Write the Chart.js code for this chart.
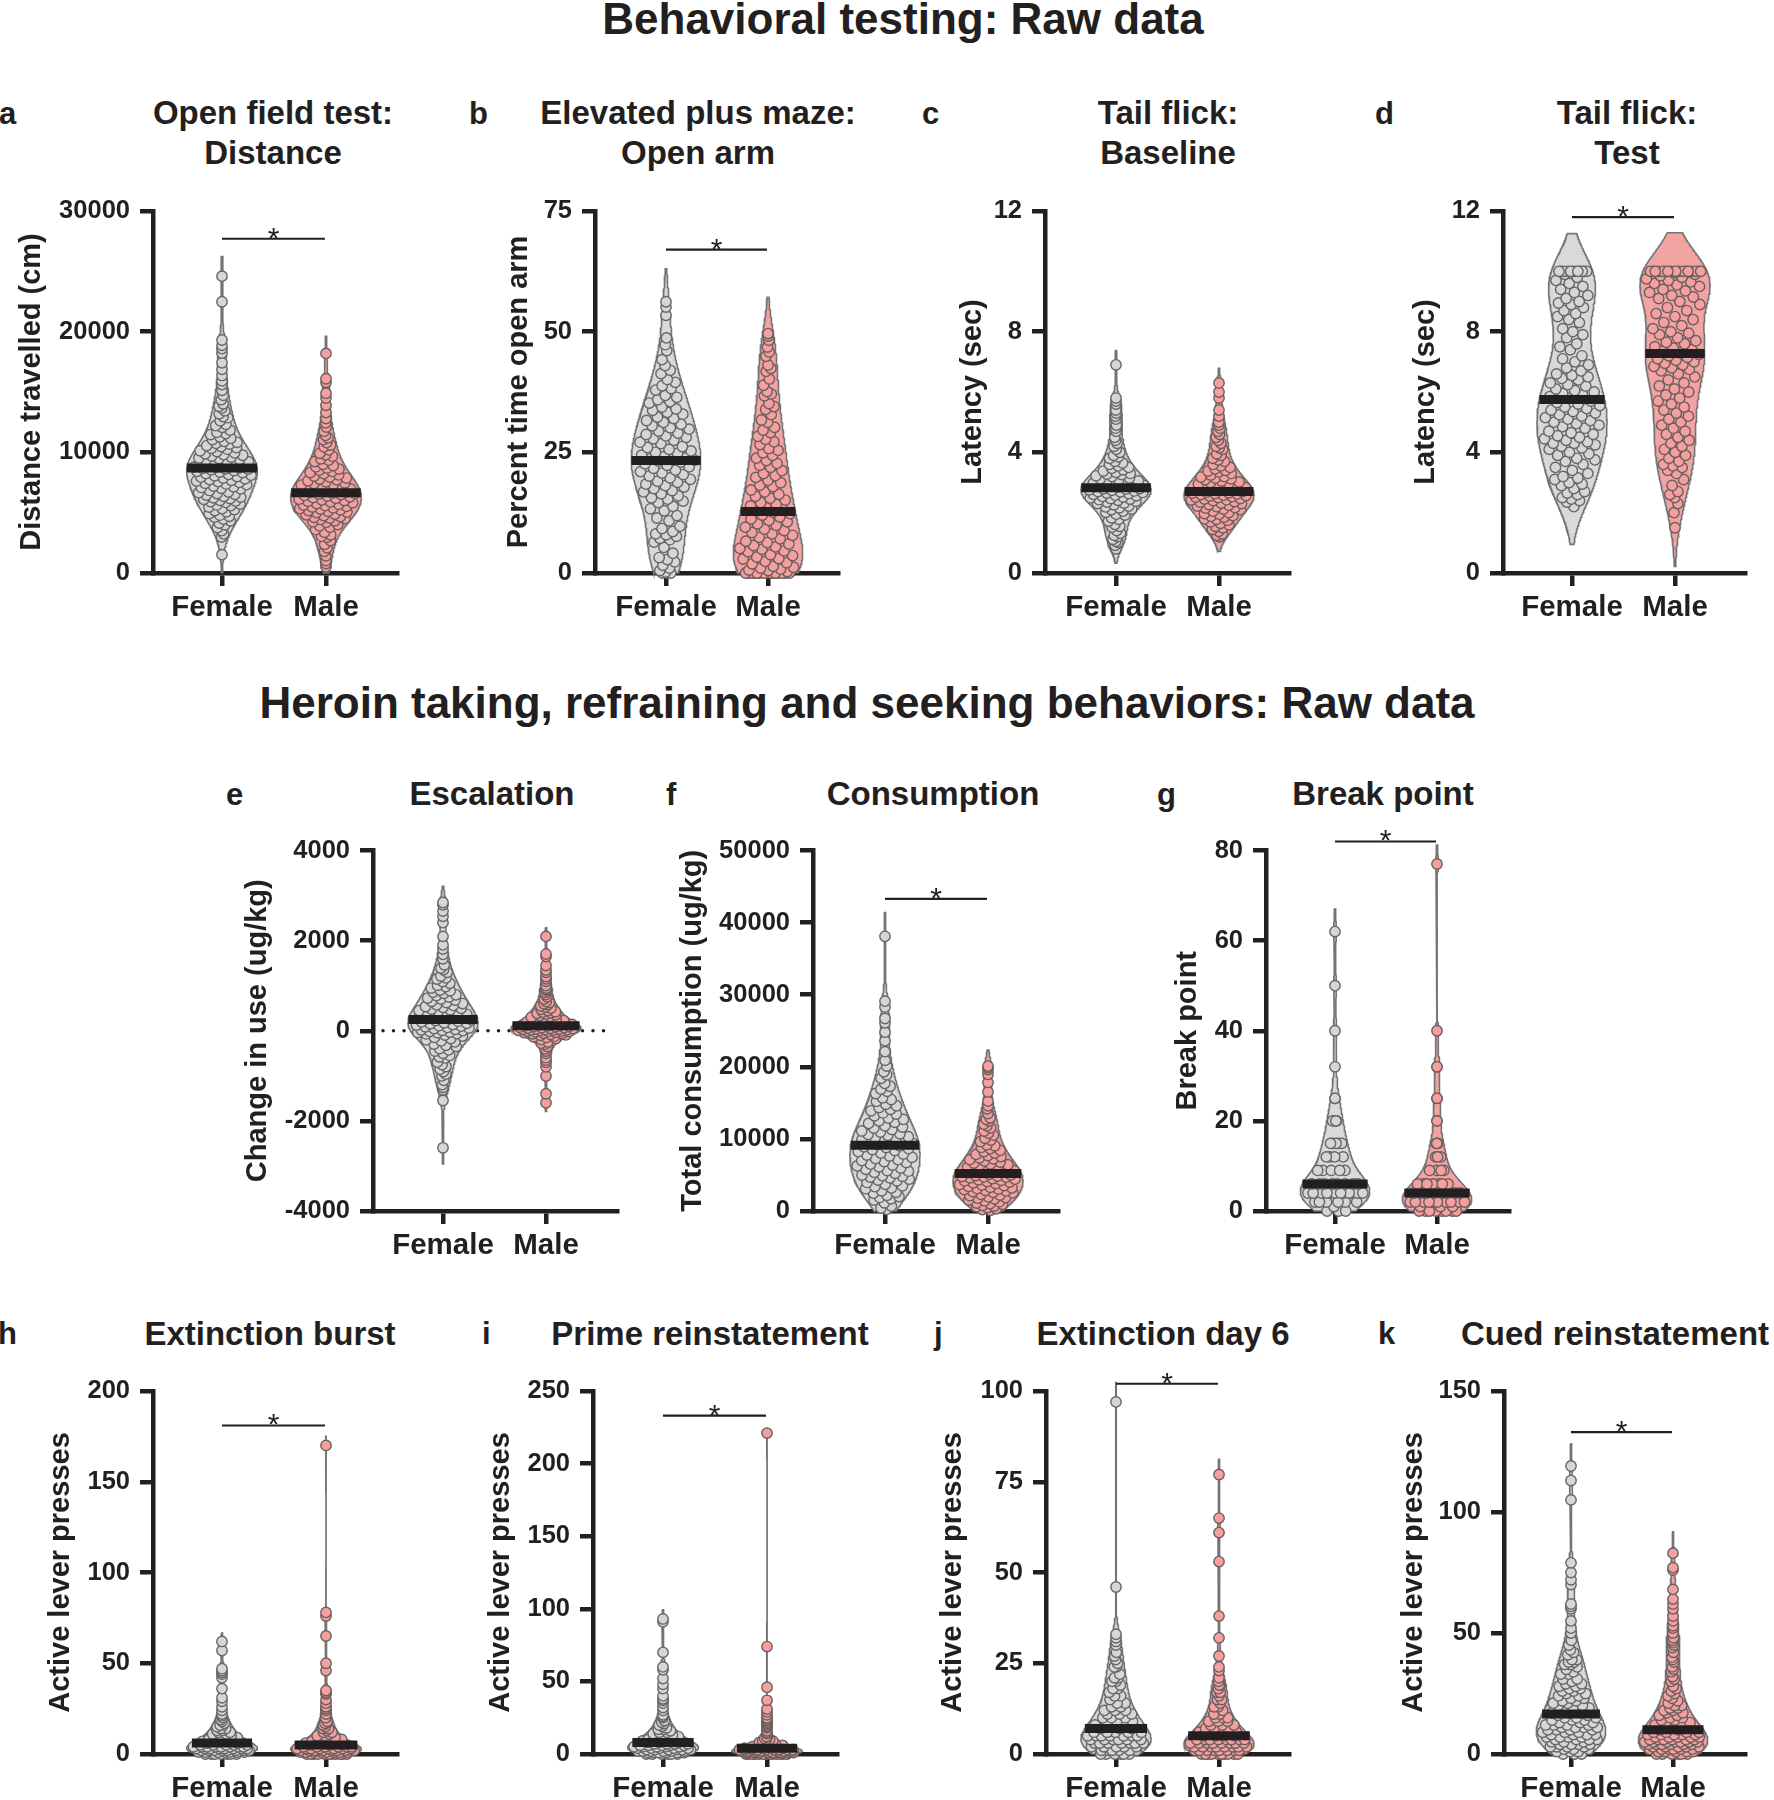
<!DOCTYPE html>
<html>
<head>
<meta charset="utf-8">
<script src="https://cdn.jsdelivr.net/npm/chart.js@4.4.0/dist/chart.umd.min.js"></script>
<style>
html,body{margin:0;padding:0;background:#fff;width:1774px;height:1800px;overflow:hidden;position:relative;font-family:"Liberation Sans",Arial,Helvetica,sans-serif;color:#231f20;}
.t{position:absolute;font-weight:bold;white-space:nowrap;}
.sec{font-size:44px;line-height:50px;transform:translateX(-50%);}
.pt{font-size:33px;line-height:40px;text-align:center;transform:translateX(-50%);}
.lt{font-size:31px;line-height:40px;}
canvas{position:absolute;}
</style>
</head>
<body>
<div class="t sec" style="left:903px;top:-6px">Behavioral testing: Raw data</div>
<div class="t sec" style="left:867px;top:678px">Heroin taking, refraining and seeking behaviors: Raw data</div>
<script>
// ---------------- DATA ----------------
const CATEGORIES = ['Female', 'Male'];

// a: Open field test - distance travelled (cm)
const DIST_FEMALE = [24600, 22480, 19310, 18870, 18590, 18230, 17420, 16880, 16370, 15920, 15610, 15140, 14730, 14360, 14020, 13660, 13440, 13190, 12870, 12620, 12330, 12070, 11840, 11660, 11470, 11290, 11060, 10910, 10740, 10560, 10390, 10260, 10070, 9950, 9810, 9690, 9540, 9410, 9280, 9160, 9030, 8940, 8860, 8770, 8720, 8680, 8560, 8430, 8320, 8170, 8060, 7940, 7810, 7740, 7680, 7570, 7440, 7320, 7210, 7090, 6970, 6840, 6720, 6590, 6460, 6360, 6230, 6110, 6020, 5970, 5850, 5720, 5580, 5460, 5330, 5180, 5070, 4920, 4790, 4630, 4470, 4320, 4140, 3990, 3770, 3510, 3240, 2980, 1520, 8610,
  8750, 8810, 8900, 9070, 9220, 9350, 9480, 9610, 9760, 9880, 10130, 10330, 10480, 10690, 10830, 11170, 11560, 12210, 12960, 13820, 8640, 8490, 8370, 8240, 8110, 7990, 7870, 7620, 7510, 7380, 7150, 7020, 6660, 6520, 6290, 6170, 5910, 5640, 5260, 4700];
const DIST_MALE = [18200, 16100, 15800, 14900, 14500, 13900, 13300, 12800, 12450, 12100, 11750, 11400, 11050, 10800, 10450, 10200, 9920, 9680, 9470, 9230, 9010, 8790, 8610, 8420, 8230, 8040, 7870, 7720, 7560, 7410, 7290, 7150, 7010, 6900, 6790, 6700, 6600, 6490, 6380, 6250, 6120, 6010, 5890, 5760, 5630, 5520, 5410, 5300, 5240, 5110, 5010, 4890, 4760, 4620, 4510, 4440, 4330, 4190, 4020, 3810, 3590, 3380, 3170, 2960, 2690, 2380, 2090, 1790, 1420, 1030, 780, 520,
  6680, 6740, 6830, 6960, 7080, 7220, 7350, 7480, 7640, 7790, 7950, 8130, 8320, 8520, 8700, 8900, 9350, 9800, 10600, 11200, 6620, 6550, 6430, 6310, 6190, 6060, 5950, 5820, 5700, 5580, 5460, 5350, 5170, 5050, 4820, 4680, 4560, 4250, 3900, 3050];
const DIST_TICKS = [0, 10000, 20000, 30000];

// b: Elevated plus maze - percent time open arm
const OPENARM_FEMALE = [56.2, 55.1, 53.4, 48.7, 47.3, 46.1, 44.2, 43.0, 41.3, 40.1, 38.8, 37.9, 36.8, 35.9, 35.2, 34.4, 33.7, 32.9, 32.3, 31.6, 30.8, 30.1, 29.4, 28.7, 28.1, 27.5, 26.8, 26.2, 25.6, 25.0, 24.4, 23.9, 23.5, 23.4, 23.2, 22.6, 22.0, 21.3, 20.7, 20.1, 19.4, 18.8, 18.1, 17.5, 16.8, 16.0, 15.3, 14.6, 13.8, 12.9, 11.9, 10.8, 9.7, 8.6, 8.1, 7.6, 7.2, 6.4, 5.3, 4.1, 3.2, 2.3, 1.6, 1.0, 0.5, 0.2, 0, 0,
  23.6, 24.1, 24.8, 25.3, 26.0, 27.1, 27.8, 28.4, 29.0, 29.8, 30.5, 31.2, 32.0, 33.3, 34.0, 35.5, 36.4, 38.2, 39.5, 42.0, 23.0, 22.3, 21.7, 21.0, 20.4, 19.7, 19.0, 18.4, 17.8, 17.1, 16.4, 15.6, 14.9, 13.3, 11.4, 9.2, 7.9, 6.9, 2.8, 0];
const OPENARM_MALE = [49.6, 49.1, 48.2, 46.8, 44.9, 43.1, 42.4, 41.8, 40.2, 38.9, 37.6, 36.7, 35.1, 33.9, 32.8, 31.7, 30.2, 29.1, 28.3, 27.2, 26.6, 25.8, 24.9, 23.8, 22.7, 21.9, 20.6, 19.8, 18.7, 17.9, 16.8, 15.9, 15.1, 14.2, 13.5, 12.9, 12.6, 12.0, 11.2, 10.6, 9.9, 9.1, 8.4, 7.8, 7.1, 6.6, 6.0, 5.4, 4.9, 4.4, 3.8, 3.3, 2.9, 2.4, 1.9, 1.4, 1.0, 0.8, 0.5, 0.3, 0, 0, 0, 0, 0, 0, 0, 0, 0, 0, 0, 0,
  13.2, 13.9, 14.6, 15.5, 16.3, 17.2, 18.2, 19.2, 20.2, 21.2, 22.3, 23.3, 24.4, 25.4, 27.7, 29.6, 31.2, 34.5, 37.1, 45.8, 12.3, 11.6, 10.9, 10.2, 9.5, 8.8, 8.1, 7.4, 6.3, 5.7, 5.1, 4.6, 3.6, 3.0, 2.1, 1.2, 0.6, 0, 0, 0];
const OPENARM_TICKS = [0, 25, 50, 75];

// c: Tail flick baseline latency (sec)
const TFBASE_FEMALE = [6.9, 5.8, 5.7, 5.4, 5.3, 5.1, 4.9, 4.7, 4.5, 4.3, 4.2, 4.0, 3.9, 3.8, 3.7, 3.6, 3.5, 3.47, 3.38, 3.3, 3.26, 3.2, 3.12, 3.05, 3.01, 2.98, 2.95, 2.91, 2.88, 2.85, 2.8, 2.76, 2.72, 2.69, 2.65, 2.61, 2.56, 2.52, 2.49, 2.45, 2.41, 2.35, 2.3, 2.22, 2.16, 2.1, 2.01, 1.92, 1.83, 1.72, 1.61, 1.52, 1.41, 1.32, 1.21, 1.12, 1.02, 0.92, 0.8, 2.79,
  2.87, 2.89, 2.9, 2.93, 2.97, 3.03, 3.08, 3.15, 3.22, 3.28, 3.34, 3.42, 3.55, 3.65, 3.85, 4.1, 4.4, 4.8, 5.2, 5.6, 2.78, 2.74, 2.7, 2.67, 2.63, 2.58, 2.54, 2.47, 2.43, 2.38, 2.32, 2.26, 2.19, 2.12, 2.05, 1.95, 1.78, 1.55, 1.25, 1.05];
const TFBASE_MALE = [6.3, 6.0, 5.8, 5.4, 5.2, 4.9, 4.8, 4.6, 4.5, 4.3, 4.2, 4.1, 3.9, 3.8, 3.7, 3.6, 3.5, 3.4, 3.35, 3.3, 3.2, 3.15, 3.1, 3.0, 2.95, 2.9, 2.85, 2.8, 2.75, 2.7, 2.68, 2.65, 2.62, 2.6, 2.55, 2.52, 2.5, 2.45, 2.42, 2.4, 2.35, 2.3, 2.25, 2.2, 2.15, 2.1, 2.0, 1.95, 1.9, 1.85, 1.8, 1.75, 1.7, 1.6, 1.5, 1.45, 1.3, 1.2, 2.58,
  2.78, 2.83, 2.88, 2.92, 2.97, 3.05, 3.12, 3.18, 3.25, 3.38, 3.45, 3.55, 3.75, 3.95, 4.15, 4.4, 4.7, 5.0, 3.02, 2.76, 2.66, 2.63, 2.57, 2.53, 2.47, 2.43, 2.37, 2.32, 2.27, 2.22, 2.17, 2.12, 2.05, 1.97, 1.88, 1.78, 1.65, 1.55, 1.38, 1.25];
const TF_TICKS = [0, 4, 8, 12];

// d: Tail flick test latency (sec)
const TFTEST_FEMALE = [10, 10, 10, 10, 10, 10, 10, 10, 9.8, 9.7, 9.6, 9.4, 9.3, 9.2, 9.0, 8.9, 8.8, 8.7, 8.6, 8.5, 8.3, 8.1, 8.0, 7.8, 7.6, 7.4, 7.2, 7.0, 6.8, 6.6, 6.5, 6.4, 6.3, 6.2, 6.1, 6.0, 5.9, 5.8, 5.7, 5.6, 5.5, 5.4, 5.35, 5.3, 5.2, 5.1, 5.05, 5.0, 4.9, 4.8, 4.7, 4.6, 4.5, 4.4, 4.35, 4.3, 4.3, 4.2, 4.1, 4.0, 3.9, 3.8, 3.7, 3.6, 3.5, 3.3, 3.2, 3.1, 3.0, 2.9, 2.8, 2.7, 2.6, 2.5, 2.4, 2.2,
  10, 10, 10, 10, 9.9, 9.5, 9.1, 8.95, 8.4, 7.9, 7.5, 7.1, 6.9, 6.7, 6.55, 6.45, 6.25, 6.05, 5.95, 5.85, 5.65, 5.55, 5.45, 5.25, 5.15, 4.95, 4.85, 4.65, 4.55, 4.45, 4.25, 4.15, 3.95, 3.75, 3.4, 3.15, 2.95, 2.65, 2.45, 2.35];
const TFTEST_MALE = [10, 10, 10, 10, 10, 10, 10, 10, 10, 10, 10, 10, 9.9, 9.8, 9.7, 9.6, 9.5, 9.4, 9.3, 9.2, 9.1, 9.0, 8.9, 8.8, 8.6, 8.4, 8.2, 8.0, 7.9, 7.8, 7.7, 7.6, 7.5, 7.4, 7.3, 7.25, 7.2, 7.1, 7.0, 6.9, 6.8, 6.7, 6.6, 6.4, 6.3, 6.2, 6.0, 5.9, 5.8, 5.6, 5.4, 5.2, 5.0, 4.9, 4.8, 4.6, 4.4, 4.2, 4.0, 3.8, 3.6, 3.5, 3.4, 3.1, 2.9, 2.7, 2.5, 2.3, 2.0, 1.5,
  10, 10, 10, 10, 10, 9.95, 9.85, 9.75, 9.65, 9.55, 9.35, 9.15, 8.7, 8.5, 8.3, 8.1, 7.95, 7.65, 7.45, 7.35, 7.15, 7.05, 6.95, 6.85, 6.75, 6.5, 6.1, 5.7, 5.5, 5.3, 5.1, 4.7, 4.5, 4.3, 4.1, 3.9, 3.7, 3.55, 3.3, 2.6];

// e: Escalation - change in use (ug/kg)
const ESC_FEMALE = [2846, 2792, 2655, 2541, 2398, 2093, 1905, 1812, 1694, 1597, 1462, 1391, 1296, 1214, 1148, 1093, 1007, 948, 903, 856, 797, 748, 703, 652, 604, 563, 518, 482, 447, 418, 386, 352, 318, 287, 262, 241, 212, 178, 153, 124, 102, 87, 61, 33, 18, 2, -28, -47, -64, -97, -148, -203, -247, -296, -352, -398, -451, -502, -548, -603, -697, -796, -852, -904, -1003, -1098, -1196, -1312, -1547, -2597,
  270, 298, 334, 365, 402, 433, 465, 497, 538, 578, 625, 681, 726, 778, 832, 888, 978, 1052, 1172, 1352, 228, 196, 164, 138, 112, 74, 46, 11, -14, -38, -71, -118, -172, -226, -322, -425, -578, -752, -963, -1254];
const ESC_MALE = [2093, 1702, 1648, 1447, 1296, 1204, 1098, 1003, 948, 897, 852, 803, 702, 648, 597, 553, 502, 448, 421, 398, 372, 338, 301, 268, 243, 212, 188, 167, 148, 131, 116, 104, 92, 79, 68, 61, 49, 38, 28, 19, 8, -3, -12, -24, -41, -58, -79, -102, -121, -148, -197, -252, -298, -351, -403, -502, -598, -703, -802, -1004, -1398, -1597,
  122, 139, 158, 177, 198, 226, 254, 286, 318, 355, 386, 412, 476, 528, 578, 623, 752, 918, 1152, 1348, 98, 86, 73, 55, 43, 33, 24, 13, 3, -7, -18, -33, -51, -68, -92, -134, -173, -275, -452, -652];
const ESC_TICKS = [-4000, -2000, 0, 2000, 4000];
const ESC_REFERENCE = 0;

// f: Total consumption (ug/kg)
const CONS_FEMALE = [38100, 29100, 28300, 26700, 26100, 24800, 23600, 22100, 20900, 20100, 19300, 18400, 17700, 16900, 16300, 15700, 15200, 14800, 14600, 14100, 13900, 13600, 13200, 12700, 12500, 12300, 11800, 11500, 11300, 11100, 10700, 10500, 10300, 9980, 9800, 9720, 9440, 9210, 9040, 8790, 8520, 8230, 7910, 7620, 7280, 6990, 6710, 6500, 6380, 6120, 5790, 5600, 5520, 5230, 4990, 4810, 4700, 4590, 4420, 4180, 3960, 3710, 3500, 3380, 3090, 2810, 2600, 2470, 2190, 1880, 1700, 1520, 1130, 690, 410, 220,
  9350, 9560, 9880, 10150, 10620, 10950, 11650, 12150, 12900, 13450, 14350, 15450, 16600, 17300, 18900, 8900, 8650, 8380, 8050, 7760, 7450, 7120, 6850, 6250, 5950, 5380, 4900, 4300, 3200, 2000];
const CONS_MALE = [20100, 19620, 18940, 17830, 16510, 15230, 14170, 13520, 12930, 12480, 12040, 11530, 11080, 10520, 10090, 9630, 9180, 8820, 8410, 8030, 7690, 7380, 7120, 6790, 6520, 6310, 6080, 5910, 5690, 5480, 5310, 5090, 4920, 4780, 4690, 4510, 4320, 4180, 4090, 3910, 3680, 3520, 3290, 3120, 2980, 2870, 2690, 2510, 2320, 2130, 1980, 1870, 1690, 1520, 1290, 1110, 920, 780, 690, 480, 310, 90,
  5390, 5580, 5790, 6010, 6210, 6420, 6650, 6950, 7250, 7550, 7850, 8250, 8650, 9050, 9850, 10800, 11800, 12700, 14600, 19900, 5020, 4850, 4730, 4600, 4420, 4250, 4020, 3810, 3610, 3410, 3200, 3050, 2790, 2590, 2210, 1780, 1400, 1020, 600, 210];
const CONS_TICKS = [0, 10000, 20000, 30000, 40000, 50000];

// g: Break point
const BP_FEMALE = [62, 50, 40, 32, 25, 25, 20, 20, 20, 20, 15, 15, 15, 15, 15, 12, 12, 12, 12, 9, 9, 9, 9, 9, 6, 6, 6, 6, 6, 6, 6, 6, 4, 4, 4, 4, 4, 4, 4, 4, 4, 4, 4, 4, 2, 2, 2, 2, 2, 2, 1, 0, 0, 0];
const BP_MALE = [77, 40, 32, 32, 25, 25, 20, 20, 15, 15, 15, 12, 12, 12, 9, 9, 9, 9, 6, 6, 6, 6, 6, 6, 6, 4, 4, 4, 4, 4, 4, 4, 4, 2, 2, 2, 2, 2, 2, 2, 2, 2, 2, 1, 1, 1, 0, 0, 0, 0, 0, 0, 0, 0];
const BP_TICKS = [0, 20, 40, 60, 80];

// h: Extinction burst - active lever presses
const EXTB_FEMALE = [62, 57, 47, 46, 45, 44, 42, 36, 31, 29, 26, 24, 22, 21, 20, 19, 17, 16, 15, 14, 13, 12, 11, 10, 10, 9, 9, 8, 8, 8, 7, 7, 7, 6, 6, 5, 5, 5, 5, 4, 4, 4, 4, 4, 3, 3, 3, 3, 3, 2, 2, 2, 2, 2, 1, 1, 1, 1, 1, 0, 0, 0, 0, 0, 0, 2, 3, 4,
  7, 8, 9, 10, 11, 12, 13, 14, 16, 18, 5, 4, 3, 2, 1, 0, 4, 3, 2, 1];
const EXTB_MALE = [170, 78, 76, 65, 50, 46, 35, 34, 33, 30, 28, 26, 24, 22, 20, 18, 17, 16, 15, 14, 13, 12, 11, 10, 9, 9, 8, 8, 7, 7, 6, 6, 6, 5, 5, 5, 4, 4, 4, 4, 3, 3, 3, 3, 3, 2, 2, 2, 2, 2, 2, 1, 1, 1, 1, 1, 1, 0, 0, 0, 0, 0, 0, 0, 0, 4, 3, 2,
  6, 7, 8, 9, 10, 12, 14, 17, 20, 25, 4, 3, 2, 1, 0, 0, 3, 2, 1, 0];
const EXTB_TICKS = [0, 50, 100, 150, 200];

// i: Prime reinstatement - active lever presses
const PRIME_FEMALE = [93, 91, 70, 60, 58, 52, 48, 45, 40, 38, 37, 35, 32, 30, 27, 25, 23, 21, 20, 18, 17, 16, 15, 14, 13, 12, 12, 11, 10, 10, 9, 9, 8, 8, 8, 7, 7, 7, 6, 6, 6, 5, 5, 5, 4, 4, 4, 4, 3, 3, 3, 3, 2, 2, 2, 2, 2, 1, 1, 1, 1, 1, 0, 0, 0, 0, 0, 6,
  9, 10, 11, 12, 13, 15, 17, 19, 22, 26, 7, 6, 5, 4, 3, 2, 1, 0, 5, 3];
const PRIME_MALE = [221, 74, 46, 37, 31, 29, 27, 25, 23, 22, 21, 20, 18, 16, 14, 12, 11, 10, 9, 9, 8, 8, 7, 7, 6, 6, 6, 5, 5, 5, 5, 4, 4, 4, 4, 4, 3, 3, 3, 3, 3, 3, 2, 2, 2, 2, 2, 2, 2, 1, 1, 1, 1, 1, 1, 1, 0, 0, 0, 0, 0, 0, 0, 0, 0, 0, 3, 2,
  5, 6, 7, 8, 9, 10, 12, 15, 19, 24, 3, 2, 1, 0, 0, 3, 2, 1, 0, 2];
const PRIME_TICKS = [0, 50, 100, 150, 200, 250];

// j: Extinction day 6 - active lever presses
const EXT6_FEMALE = [97, 46, 33, 32, 31, 30, 28, 27, 26, 25, 24, 22, 21, 20, 20, 19, 18, 17, 16, 15, 14, 13, 13, 12, 12, 11, 11, 10, 10, 9, 9, 8, 8, 7, 7, 7, 6, 6, 6, 6, 5, 5, 5, 5, 4, 4, 4, 4, 3, 3, 3, 3, 2, 2, 2, 2, 1, 1, 1, 1, 0, 0, 0, 0, 0, 5, 4, 3,
  8, 9, 10, 11, 12, 14, 16, 18, 21, 24, 6, 5, 4, 3, 2, 1, 0, 5, 3, 1];
const EXT6_MALE = [77, 65, 61, 53, 38, 32, 27, 24, 23, 21, 20, 19, 18, 17, 16, 15, 14, 13, 12, 11, 10, 10, 9, 9, 8, 8, 7, 7, 7, 6, 6, 6, 5, 5, 5, 5, 4, 4, 4, 4, 4, 3, 3, 3, 3, 3, 2, 2, 2, 2, 2, 2, 1, 1, 1, 1, 1, 1, 0, 0, 0, 0, 0, 0, 0, 0, 3, 4,
  6, 7, 8, 9, 10, 11, 13, 15, 17, 19, 4, 3, 2, 1, 0, 0, 4, 2, 1, 3];
const EXT6_TICKS = [0, 25, 50, 75, 100];

// k: Cued reinstatement - active lever presses
const CUED_FEMALE = [119, 113, 105, 79, 75, 72, 70, 62, 61, 60, 55, 52, 50, 47, 45, 43, 41, 39, 38, 37, 36, 34, 33, 31, 30, 29, 28, 27, 26, 25, 24, 23, 22, 21, 20, 19, 18, 17, 16, 15, 15, 14, 13, 13, 12, 12, 11, 11, 10, 10, 9, 9, 8, 8, 7, 7, 6, 6, 5, 5, 4, 4, 3, 3, 2, 2, 1, 1, 0, 0, 14, 12, 10, 8, 6, 4,
  17, 18, 19, 20, 21, 22, 23, 24, 25, 26, 27, 28, 29, 31, 33, 35, 37, 38, 39, 42, 16, 15, 14, 13, 12, 11, 10, 9, 8, 7, 6, 5, 4, 3, 2, 1, 0, 11, 7, 3];
const CUED_MALE = [83, 77, 76, 68, 64, 62, 60, 57, 55, 53, 50, 48, 46, 45, 42, 40, 38, 36, 34, 32, 30, 28, 26, 24, 22, 20, 19, 18, 17, 16, 15, 14, 13, 12, 11, 10, 10, 9, 9, 8, 8, 8, 7, 7, 7, 6, 6, 6, 5, 5, 5, 5, 4, 4, 4, 4, 3, 3, 3, 2, 2, 2, 2, 1, 1, 1, 0, 0, 0, 0, 6, 5,
  11, 12, 13, 14, 15, 16, 17, 18, 19, 20, 21, 23, 25, 27, 31, 35, 39, 44, 47, 52, 9, 9, 8, 8, 7, 7, 6, 6, 5, 5, 4, 4, 3, 3, 2, 2, 1, 1, 0, 0];
const CUED_TICKS = [0, 50, 100, 150];

// significance bar levels (axis units), one per panel a..k; null = no marker
const SIG_LEVELS = [27700, 67, null, 11.8, null, 43300, 82, 181, 233, 102, 133];

const PANEL_LETTERS = ['a','b','c','d','e','f','g','h','i','j','k'];
const PANEL_TITLES = [['Open field test:','Distance'], ['Elevated plus maze:','Open arm'], ['Tail flick:','Baseline'], ['Tail flick:','Test'], ['Escalation'], ['Consumption'], ['Break point'], ['Extinction burst'], ['Prime reinstatement'], ['Extinction day 6'], ['Cued reinstatement']];
const Y_TITLES = ['Distance travelled (cm)', 'Percent time open arm', 'Latency (sec)', 'Latency (sec)', 'Change in use (ug/kg)', 'Total consumption (ug/kg)', 'Break point', 'Active lever presses', 'Active lever presses', 'Active lever presses', 'Active lever presses'];

// ---------------- STYLE / LAYOUT ----------------
const INK = '#231f20';
const FEMALE_STYLE = {violinFill:'#d9d9d9', violinLine:'#747474', ptFill:'#d6d6d6', ptLine:'#666666'};
const MALE_STYLE = {violinFill:'#f4a3a3', violinLine:'#747474', ptFill:'#f59f9f', ptLine:'#6a5f5f'};

const PANELS = [
  {female: DIST_FEMALE, male: DIST_MALE, ticks: DIST_TICKS},
  {female: OPENARM_FEMALE, male: OPENARM_MALE, ticks: OPENARM_TICKS},
  {female: TFBASE_FEMALE, male: TFBASE_MALE, ticks: TF_TICKS},
  {female: TFTEST_FEMALE, male: TFTEST_MALE, ticks: TF_TICKS},
  {female: ESC_FEMALE, male: ESC_MALE, ticks: ESC_TICKS, reference: ESC_REFERENCE},
  {female: CONS_FEMALE, male: CONS_MALE, ticks: CONS_TICKS},
  {female: BP_FEMALE, male: BP_MALE, ticks: BP_TICKS},
  {female: EXTB_FEMALE, male: EXTB_MALE, ticks: EXTB_TICKS},
  {female: PRIME_FEMALE, male: PRIME_MALE, ticks: PRIME_TICKS},
  {female: EXT6_FEMALE, male: EXT6_MALE, ticks: EXT6_TICKS},
  {female: CUED_FEMALE, male: CUED_MALE, ticks: CUED_TICKS}
];

const R1 = {top:211, bot:573, ttop:93, ltop:94};
const R2 = {top:850.5, bot:1211, ttop:774, ltop:775};
const R3 = {top:1391, bot:1754, ttop:1314, ltop:1314};
const LAYOUT = [
  Object.assign({ax:153, fx:222, mx:326, rx:397, ytx:31, tcx:273, lx:-1}, R1),
  Object.assign({ax:595, fx:666, mx:768, rx:838, ytx:518, tcx:698, lx:469}, R1),
  Object.assign({ax:1045, fx:1116, mx:1219, rx:1289, ytx:972, tcx:1168, lx:922}, R1),
  Object.assign({ax:1503, fx:1572, mx:1675, rx:1745, ytx:1425, tcx:1627, lx:1375}, R1),
  Object.assign({ax:373, fx:443, mx:546, rx:617, ytx:257, tcx:492, lx:226}, R2),
  Object.assign({ax:813, fx:885, mx:988, rx:1058, ytx:692, tcx:933, lx:666}, R2),
  Object.assign({ax:1266, fx:1335, mx:1437, rx:1509, ytx:1187, tcx:1383, lx:1157}, R2),
  Object.assign({ax:153, fx:222, mx:326, rx:397, ytx:60, tcx:270, lx:-2}, R3),
  Object.assign({ax:593, fx:663, mx:767, rx:837, ytx:500, tcx:710, lx:482}, R3),
  Object.assign({ax:1046, fx:1116, mx:1219, rx:1289, ytx:952, tcx:1163, lx:934}, R3),
  Object.assign({ax:1504, fx:1571, mx:1673, rx:1745, ytx:1413, tcx:1615, lx:1378}, R3)
];

Chart.defaults.font.family = '"Liberation Sans", Arial, Helvetica, sans-serif';
Chart.defaults.color = INK;

// kernel density violin, half width in category units
function violin(vals) {
  const s = vals.slice().sort((a, b) => a - b);
  const n = s.length;
  const mean = s.reduce((a, b) => a + b, 0) / n;
  const sd = Math.sqrt(s.reduce((a, b) => a + (b - mean) * (b - mean), 0) / (n - 1));
  const q = p => { const i = (n - 1) * p, lo = Math.floor(i), hi = Math.ceil(i); return s[lo] + (s[hi] - s[lo]) * (i - lo); };
  const iqr = q(0.75) - q(0.25);
  const h = 0.9 * Math.min(sd, iqr > 0 ? iqr / 1.34 : sd) * Math.pow(n, -0.2);
  const lo = s[0] >= 0 ? Math.max(0, s[0] - 1.5 * h) : s[0] - 1.5 * h;
  const hi = s[n - 1] + 1.5 * h;
  const N = 320, ys = [], d = [];
  for (let i = 0; i <= N; i++) {
    const y = lo + (hi - lo) * i / N;
    let sum = 0;
    for (const v of s) { const z = (y - v) / h; sum += Math.exp(-0.5 * z * z); }
    ys.push(y); d.push(sum);
  }
  const mx = Math.max(...d);
  const hw = d.map(v => 0.34 * v / mx);
  const at = y => {
    if (y <= lo) return hw[0];
    if (y >= hi) return hw[N];
    const t = (y - lo) / (hi - lo) * N, i = Math.floor(t);
    return i >= N ? hw[N] : hw[i] + (hw[i + 1] - hw[i]) * (t - i);
  };
  return {ys, hw, at, median: q(0.5), sorted: s};
}

const sigStar = {
  id: 'sigStar',
  afterDatasetsDraw(chart, args, opts) {
    if (opts.level == null) return;
    const ctx = chart.ctx, xs = chart.scales.x, ys = chart.scales.y;
    const x = (xs.getPixelForValue(0) + xs.getPixelForValue(0.99)) / 2;
    const y = ys.getPixelForValue(opts.level);
    ctx.save();
    ctx.font = '30px "Liberation Sans", Arial, sans-serif';
    ctx.fillStyle = INK; ctx.textAlign = 'center'; ctx.textBaseline = 'alphabetic';
    ctx.fillText('*', x, y + 9);
    ctx.restore();
  }
};

const GOLD = 0.6180339887;

function addText(cls, html, left, top) {
  const d = document.createElement('div');
  d.className = 't ' + cls; d.innerHTML = html;
  d.style.left = left + 'px'; d.style.top = top + 'px';
  document.body.appendChild(d);
}

PANELS.forEach((p, k) => {
  const g = LAYOUT[k];
  addText('pt', PANEL_TITLES[k].join('<br>'), g.tcx, g.ttop);
  addText('lt', PANEL_LETTERS[k], g.lx, g.ltop);

  const L = Math.round(g.ytx - 14.5), T = Math.round(g.top - 52);
  const W = Math.round(g.rx + 14 - L), H = Math.round(g.bot + 64 - T);
  const cv = document.createElement('canvas');
  cv.width = W; cv.height = H;
  cv.style.left = L + 'px'; cv.style.top = T + 'px';
  cv.style.width = W + 'px'; cv.style.height = H + 'px';
  document.body.appendChild(cv);

  const unit = g.mx - g.fx;
  const xMin = (g.ax - g.fx) / unit, xMax = (g.rx - g.fx) / unit;
  const datasets = [];
  if (p.reference !== undefined) {
    datasets.push({data: [{x: xMin + 10 / unit, y: p.reference}, {x: xMax - 4 / unit, y: p.reference}],
      borderColor: INK, borderWidth: 3.5, borderDash: [0, 10.5], borderCapStyle: 'round',
      pointRadius: 0, order: 6, clip: false});
  }
  [{vals: p.female, c: 0, st: FEMALE_STYLE}, {vals: p.male, c: 1, st: MALE_STYLE}].forEach(gr => {
    const v = violin(gr.vals);
    const poly = [];
    for (let i = 0; i < v.ys.length; i++) poly.push({x: gr.c + v.hw[i], y: v.ys[i]});
    for (let i = v.ys.length - 1; i >= 0; i--) poly.push({x: gr.c - v.hw[i], y: v.ys[i]});
    poly.push(poly[0]);
    datasets.push({data: poly, fill: 'shape', backgroundColor: gr.st.violinFill, borderColor: gr.st.violinLine,
      borderWidth: 1.6, pointRadius: 0, tension: 0, order: 4, clip: false});
    const r = 5.5 / unit;
    const pts = v.sorted.map((val, i) => {
      const s = ((i + 1) * GOLD) % 1 * 2 - 1;
      const lim = Math.max(v.at(val) - r, 0);
      return {x: gr.c + s * lim, y: val};
    });
    datasets.push({data: pts, showLine: false, pointRadius: 5.2, pointBackgroundColor: gr.st.ptFill,
      pointBorderColor: gr.st.ptLine, pointBorderWidth: 1.4, order: 2, clip: false});
    const hm = Math.max(v.at(v.median), 0.12);
    datasets.push({data: [{x: gr.c - hm, y: v.median}, {x: gr.c + hm, y: v.median}], borderColor: INK,
      borderWidth: 9, borderCapStyle: 'butt', pointRadius: 0, order: 1, clip: false});
  });
  const sig = SIG_LEVELS[k];
  if (sig != null) {
    datasets.push({data: [{x: 0, y: sig}, {x: 0.99, y: sig}], borderColor: INK, borderWidth: 2.2,
      pointRadius: 0, order: 1, clip: false});
  }
  const gridOpt = () => ({drawOnChartArea: false, drawTicks: true, tickLength: 13, lineWidth: 4.5, color: INK});
  const borderOpt = () => ({display: true, width: 4.5, color: INK});
  new Chart(cv, {
    type: 'line',
    data: {datasets},
    options: {
      responsive: false, animation: false, events: [],
      layout: {padding: {top: g.top - T, right: L + W - g.rx, bottom: 0, left: 0}},
      plugins: {legend: {display: false}, tooltip: {enabled: false}, sigStar: {level: sig}},
      scales: {
        x: {type: 'linear', position: 'bottom', min: xMin, max: xMax,
          afterBuildTicks: s => { s.ticks = [{value: 0}, {value: 1}]; },
          afterFit: s => { s.height = T + H - g.bot; },
          ticks: {callback: v => CATEGORIES[v], font: {size: 29.5, weight: 'bold'}, color: INK, padding: 4, maxRotation: 0, autoSkip: false},
          grid: gridOpt(), border: borderOpt()},
        y: {type: 'linear', min: p.ticks[0], max: p.ticks[p.ticks.length - 1],
          afterBuildTicks: s => { s.ticks = p.ticks.map(v => ({value: v})); },
          afterFit: s => { s.width = g.ax - L; },
          ticks: {callback: v => String(v), font: {size: 25.5, weight: 'bold'}, color: INK, padding: 10, autoSkip: false},
          grid: gridOpt(), border: borderOpt(),
          title: {display: true, text: Y_TITLES[k], font: {size: 29, weight: 'bold', lineHeight: 1}, color: INK, padding: 0}}
      }
    },
    plugins: [sigStar]
  });
});
</script>
</body>
</html>
